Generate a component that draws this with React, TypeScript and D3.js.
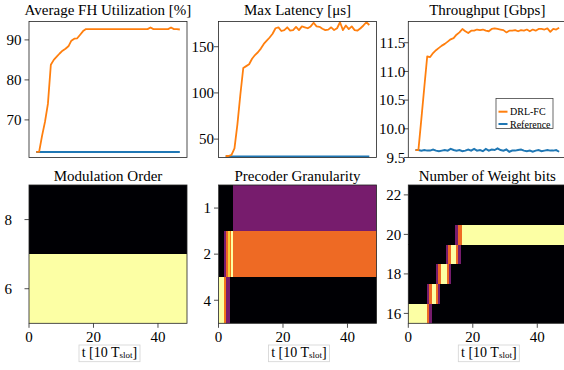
import React from 'react';
import * as d3 from 'd3';

// time index (units of 10 slots)
const steps = d3.range(50);

const fhDrl = [62.0, 62.0, 66.0, 69.5, 74.0, 83.8, 85.0, 85.8, 86.6, 87.3, 87.8, 88.4, 89.8, 90.3, 90.4, 91.3, 92.2, 92.7,
  92.7, 92.7, 92.7, 92.7, 92.7, 92.7, 92.7, 92.7, 92.7, 92.7, 92.7, 92.7, 92.7, 92.7, 92.7, 92.7, 92.7, 92.7, 92.7, 92.7, 92.7,
  93.1, 92.7, 92.7, 92.7, 92.7, 92.7, 92.7, 93.1, 92.7, 92.7, 92.6];
const fhRef = [62.0, 62.0, 62.0, 62.0, 62.0, 62.0, 62.0, 62.0, 62.0, 62.0, 62.0, 62.0, 62.0, 62.0, 62.0, 62.0, 62.0, 62.0,
  62.0, 62.0, 62.0, 62.0, 62.0, 62.0, 62.0, 62.0, 62.0, 62.0, 62.0, 62.0, 62.0, 62.0, 62.0, 62.0, 62.0, 62.0, 62.0, 62.0, 62.0,
  62.0, 62.0, 62.0, 62.0, 62.0, 62.0, 62.0, 62.0, 62.0, 62.0, 62.0];

const latDrl = [31.7, 31.7, 33, 40, 66, 98, 127, 129, 131, 137, 141, 144, 148, 153, 156.5, 160, 164, 170, 171, 167,
  168, 171, 167.5, 168, 171.5, 168, 172, 171, 170, 172, 176, 172, 171.5, 169.5, 168, 168.5, 171, 168, 170, 176.5,
  168, 173, 169, 172, 168, 167.5, 170, 173, 176.5, 173.5];
const latRef = [31.2, 31.2, 31.2, 31.2, 31.2, 31.2, 31.2, 31.2, 31.2, 31.2, 31.2, 31.2, 31.2, 31.2, 31.2, 31.2, 31.2, 31.2,
  31.2, 31.2, 31.2, 31.2, 31.2, 31.2, 31.2, 31.2, 31.2, 31.2, 31.2, 31.2, 31.2, 31.2, 31.2, 31.2, 31.2, 31.2, 31.2, 31.2, 31.2,
  31.2, 31.2, 31.2, 31.2, 31.2, 31.2, 31.2, 31.2, 31.2, 31.2, 31.2];

const thrDrl = [9.63, 9.63, 10.17, 10.72, 11.26, 11.25, 11.32, 11.37, 11.41, 11.45, 11.48, 11.52, 11.56, 11.58, 11.64, 11.68,
  11.74, 11.70, 11.67, 11.71, 11.71, 11.73, 11.72, 11.73, 11.71, 11.70, 11.74, 11.75, 11.74, 11.73, 11.72, 11.68, 11.71,
  11.71, 11.72, 11.70, 11.72, 11.71, 11.73, 11.70, 11.73, 11.71, 11.74, 11.74, 11.73, 11.75, 11.69, 11.74, 11.73, 11.76];
const thrRef = [9.63, 9.63, 9.62, 9.63, 9.62, 9.62, 9.64, 9.62, 9.61, 9.62, 9.63, 9.62, 9.65, 9.63, 9.62, 9.63, 9.61, 9.62,
  9.64, 9.62, 9.65, 9.62, 9.63, 9.61, 9.65, 9.62, 9.64, 9.63, 9.66, 9.63, 9.62, 9.64, 9.60, 9.62, 9.62, 9.63, 9.64, 9.62,
  9.61, 9.62, 9.60, 9.62, 9.63, 9.61, 9.62, 9.63, 9.62, 9.62, 9.63, 9.60];

// heatmap cells: [row, tStart, tEnd, share]
const modOrders = [8, 6];
const modCells: [number, number, number, number][] = [
  [8, 0, 49, 0],
  [6, 0, 49, 1],
];

const precoderRows = ['1', '2', '4'];
const precoderCells: [string, number, number, number][] = [
  ['1', 0, 4.6, 0], ['1', 4.6, 49, 0.33],
  ['2', 0, 1.6, 0], ['2', 1.6, 2.2, 0.33], ['2', 2.2, 3.0, 0.67], ['2', 3.0, 3.5, 0.88], ['2', 3.5, 3.9, 0.7],
  ['2', 3.9, 4.6, 1], ['2', 4.6, 49, 0.67],
  ['4', 0, 1.6, 1], ['4', 1.6, 2.4, 0.7], ['4', 2.4, 3.5, 0.33], ['4', 3.5, 49, 0],
];

const bitTicks = [16, 18, 20, 22];
const bitCells: [number, number, number, number][] = [
  [16, 0, 5.8, 1], [16, 5.8, 6.5, 0.67], [16, 6.5, 7.2, 0.33], [16, 7.2, 49, 0],
  [17, 0, 5.8, 0], [17, 5.8, 6.5, 0.33], [17, 6.5, 7.25, 0.67], [17, 7.25, 8.5, 1], [17, 8.5, 9.3, 0.67], [17, 9.3, 9.9, 0.33], [17, 9.9, 49, 0],
  [18, 0, 8.6, 0], [18, 8.6, 9.3, 0.33], [18, 9.3, 10.05, 0.67], [18, 10.05, 11.9, 1], [18, 11.9, 12.6, 0.67], [18, 12.6, 13.2, 0.33], [18, 13.2, 49, 0],
  [19, 0, 11.7, 0], [19, 11.7, 12.4, 0.33], [19, 12.4, 13.1, 0.67], [19, 13.1, 14.7, 1], [19, 14.7, 15.5, 0.67], [19, 15.5, 16.3, 0.33], [19, 16.3, 49, 0],
  [20, 0, 14.6, 0], [20, 14.6, 15.5, 0.33], [20, 15.5, 16.6, 0.67], [20, 16.6, 49, 1],
  [21, 0, 49, 0],
  [22, 0, 49, 0],
];

const tTicks = [0, 20, 40];
const FONT = "'Liberation Serif', 'DejaVu Serif', serif";
const ORANGE = '#ff7f0e';
const BLUE = '#1f77b4';
const FRAME = '#222';

const COLS = [29, 218.5, 408.3];
const PW = 158;
const TOP = [21.5, 157.5];
const BOT = [185, 323.3];

function LinePanel({ left, title, drl, reference, yDomain, yTicks, fmt, gap, legend }: any) {
  const x = d3.scaleLinear().domain([-2.45, 51.45]).range([left, left + PW]);
  const y = d3.scaleLinear().domain(yDomain).range([TOP[1], TOP[0]]);
  const line = d3.line<number>().x((_, i) => x(steps[i])).y(d => y(d));
  const id = 'clip' + Math.round(left);
  return (
    <g>
      <defs>
        <clipPath id={id}><rect x={left} y={TOP[0]} width={PW} height={TOP[1] - TOP[0]} /></clipPath>
      </defs>
      <text x={left + PW / 2} y={15} textAnchor="middle" fontSize={15}>{title}</text>
      <g clipPath={`url(#${id})`}>
        <path d={line(reference) || ''} fill="none" stroke={BLUE} strokeWidth={2} />
        <path d={line(drl) || ''} fill="none" stroke={ORANGE} strokeWidth={1.8} strokeLinejoin="round" />
      </g>
      {yTicks.map((t: number) => (
        <g key={t}>
          <line x1={left - 4.5} x2={left} y1={y(t)} y2={y(t)} stroke={FRAME} strokeWidth={0.8} />
          <text x={left - gap} y={y(t)} dy="0.35em" textAnchor="end" fontSize={15}>{fmt(t)}</text>
        </g>
      ))}
      <rect x={left} y={TOP[0]} width={PW} height={TOP[1] - TOP[0]} fill="none" stroke={FRAME} strokeWidth={0.8} />
      {legend && (
        <g fontSize={10}>
          <rect x={496} y={98.5} width={57} height={30} fill="white" stroke="#444" strokeWidth={0.8} />
          <line x1={498.5} x2={507.5} y1={111.7} y2={111.7} stroke={ORANGE} strokeWidth={2} />
          <text x={510} y={111.7} dy="0.35em">DRL-FC</text>
          <line x1={498.5} x2={507.5} y1={124} y2={124} stroke={BLUE} strokeWidth={2} />
          <text x={510} y={124} dy="0.35em">Reference</text>
        </g>
      )}
    </g>
  );
}

function HeatPanel({ left, title, cells, rowSpan, ticks, gap }: any) {
  const x = d3.scaleLinear().domain([0, 49]).range([left, left + PW]);
  const id = 'hclip' + Math.round(left);
  return (
    <g>
      <defs>
        <clipPath id={id}><rect x={left} y={BOT[0]} width={PW} height={BOT[1] - BOT[0]} /></clipPath>
      </defs>
      <text x={left + PW / 2} y={180.5} textAnchor="middle" fontSize={15}>{title}</text>
      <g clipPath={`url(#${id})`} shapeRendering="crispEdges">
        {cells.map((c: any, i: number) => {
          const [y0, y1] = rowSpan(c[0]);
          return (
            <rect key={i} x={x(c[1])} y={y0} width={x(c[2]) - x(c[1]) + 0.3} height={y1 - y0 + 0.3}
              fill={d3.interpolateInferno(c[3])} />
          );
        })}
      </g>
      {ticks.map((t: any) => (
        <g key={t.label}>
          <line x1={left - 4.5} x2={left} y1={t.y} y2={t.y} stroke={FRAME} strokeWidth={0.8} />
          <text x={left - gap} y={t.y} dy="0.35em" textAnchor="end" fontSize={15}>{t.label}</text>
        </g>
      ))}
      {tTicks.map(t => (
        <g key={t}>
          <line x1={x(t)} x2={x(t)} y1={BOT[1]} y2={BOT[1] + 4.5} stroke={FRAME} strokeWidth={0.8} />
          <text x={x(t)} y={342} textAnchor="middle" fontSize={15}>{t}</text>
        </g>
      ))}
      <rect x={left} y={BOT[0]} width={PW} height={BOT[1] - BOT[0]} fill="none" stroke={FRAME} strokeWidth={0.8} />
      <g transform={`translate(${left + PW / 2 + 1.5},356.5)`}>
        <rect x={-30.5} y={-11.5} width={61} height={16.7} fill="white" stroke="#d3d3d3" strokeWidth={0.8} />
        <text textAnchor="middle" fontSize={14}>t [10 T<tspan fontSize={9} dy={1}>slot</tspan><tspan dy={-1}>]</tspan></text>
      </g>
    </g>
  );
}

export default function App() {
  const modY = d3.scaleLinear().domain([5, 9]).range([BOT[1], BOT[0]]);
  const precY = d3.scaleBand<string>().domain(precoderRows).range([BOT[0], BOT[1]]);
  const bitY = d3.scaleLinear().domain([15.5, 22.5]).range([BOT[1], BOT[0]]);

  return (
    <svg width={564} height={370}
      style={{ position: 'absolute', left: 0, top: 0, background: 'white', fontFamily: FONT }}>
      <LinePanel left={COLS[0]} title="Average FH Utilization [%]" drl={fhDrl} reference={fhRef}
        yDomain={[60.6, 94.6]} yTicks={[70, 80, 90]} fmt={(d: number) => d} gap={7.5} />
      <LinePanel left={COLS[1]} title="Max Latency [μs]" drl={latDrl} reference={latRef}
        yDomain={[30.1, 177.3]} yTicks={[50, 100, 150]} fmt={(d: number) => d} gap={4.5} />
      <LinePanel left={COLS[2]} title="Throughput [Gbps]" drl={thrDrl} reference={thrRef}
        yDomain={[9.5, 11.87]} yTicks={[9.5, 10.0, 10.5, 11.0, 11.5]} fmt={d3.format('.1f')} gap={3} legend />

      <HeatPanel left={COLS[0]} title="Modulation Order" cells={modCells}
        rowSpan={(r: number) => [modY(r + 1), modY(r - 1)]}
        ticks={modOrders.map(m => ({ label: m, y: modY(m) }))} gap={17} />
      <HeatPanel left={COLS[1]} title="Precoder Granularity" cells={precoderCells}
        rowSpan={(r: string) => [precY(r)!, precY(r)! + precY.bandwidth()]}
        ticks={precoderRows.map(p => ({ label: p, y: precY(p)! + precY.bandwidth() / 2 }))} gap={7.5} />
      <HeatPanel left={COLS[2]} title="Number of Weight bits" cells={bitCells}
        rowSpan={(r: number) => [bitY(r + 0.5), bitY(r - 0.5)]}
        ticks={bitTicks.map(b => ({ label: b, y: bitY(b) }))} gap={7} />
    </svg>
  );
}
